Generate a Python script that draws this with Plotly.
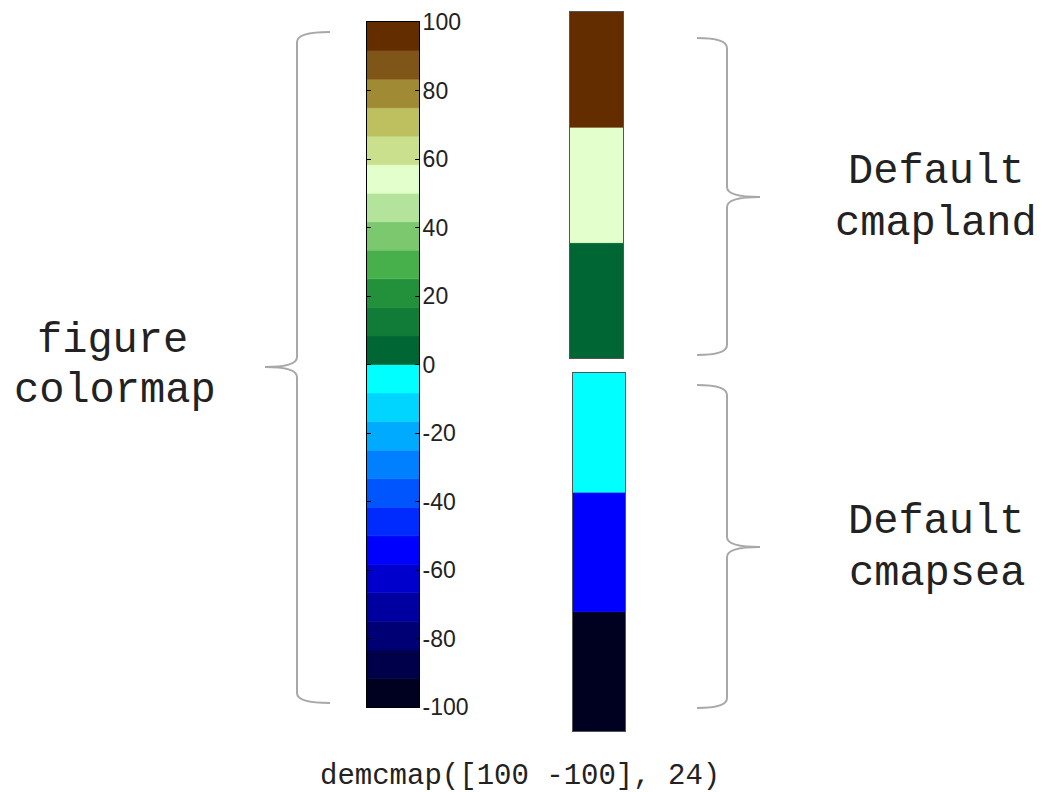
import numpy as np
import plotly.graph_objects as go

# page has an 8px body margin: figure drawn at (8,8) in the 1049x792 window
OFF = 8
W, H = 1049 - OFF, 792 - OFF

# ---- data ----
cmap_limits = [-100, 100]
n_colors = 24
tick_vals = [-100, -80, -60, -40, -20, 0, 20, 40, 60, 80, 100]
tick_text = ["-100", "-80", "-60", "-40", "-20", "0", "20", "40", "60", "80", "100"]
# figure colormap, bottom (-100) to top (100)
fig_colors = [
    "#000020", "#00004a", "#000075", "#0000a0", "#0000cc", "#0000ff",
    "#002bff", "#0055ff", "#0080ff", "#00aaff", "#00d5ff", "#00ffff",
    "#006633", "#117c37", "#23913b", "#47b04b", "#7cc86e", "#b4e49c",
    "#e2ffcc", "#cbe08c", "#bec060", "#a08a34", "#7f5618", "#632d00",
]
land_default = ["#006633", "#e2ffcc", "#632d00"]   # bottom to top
sea_default = ["#000020", "#0000ff", "#00ffff"]    # bottom to top

labels_left = ["figure", "colormap"]
labels_land = ["Default", "cmapland"]
labels_sea = ["Default", "cmapsea"]
caption = "demcmap([100 -100], 24)"

edges = np.linspace(cmap_limits[0], cmap_limits[1], n_colors + 1)
step = edges[1] - edges[0]

fig = go.Figure()

fig.add_trace(go.Bar(
    x=[0] * n_colors, y=[step] * n_colors, base=list(edges[:-1]),
    marker=dict(color=fig_colors, line=dict(width=0.6, color=fig_colors)), width=1,
    xaxis="x", yaxis="y", hoverinfo="skip", showlegend=False))

fig.add_trace(go.Bar(
    x=[0] * 3, y=[1] * 3, base=[0, 1, 2],
    marker=dict(color=land_default, line=dict(width=0.6, color=land_default)), width=1,
    xaxis="x2", yaxis="y2", hoverinfo="skip", showlegend=False))

fig.add_trace(go.Bar(
    x=[0] * 3, y=[1] * 3, base=[0, 1, 2],
    marker=dict(color=sea_default, line=dict(width=0.6, color=sea_default)), width=1,
    xaxis="x3", yaxis="y3", hoverinfo="skip", showlegend=False))

def px_x(a, b):
    return [(a - OFF) / W, (b - OFF) / W]

def px_y(top, bottom):
    return [1 - (bottom - OFF) / H, 1 - (top - OFF) / H]

box = dict(showline=True, linewidth=1, mirror=True, showgrid=False, zeroline=False)

fig.update_layout(
    width=W, height=H, margin=dict(l=0, r=0, t=0, b=0, autoexpand=False),
    paper_bgcolor="white", plot_bgcolor="rgba(0,0,0,0)", barmode="overlay",
    xaxis=dict(domain=px_x(367, 419), range=[-0.5, 0.5], showticklabels=False,
               ticks="", anchor="y", linecolor="black", **box),
    yaxis=dict(domain=px_y(22, 707), range=cmap_limits, side="right",
               tickvals=tick_vals, ticktext=tick_text, ticks="inside",
               ticklen=4, tickcolor="black", anchor="x", ticklabelstandoff=-2,
               tickfont=dict(family="Liberation Sans, Arial", size=23, color="#222"),
               showline=True, linecolor="black", linewidth=1, mirror="ticks",
               showgrid=False, zeroline=False),
    xaxis2=dict(domain=px_x(570, 623), range=[-0.5, 0.5], showticklabels=False,
                ticks="", anchor="y2", linecolor="#555", **box),
    yaxis2=dict(domain=px_y(12, 358), range=[0, 3], showticklabels=False,
                ticks="", anchor="x2", linecolor="#555", **box),
    xaxis3=dict(domain=px_x(573, 625), range=[-0.5, 0.5], showticklabels=False,
                ticks="", anchor="y3", linecolor="#555", **box),
    yaxis3=dict(domain=px_y(373, 731), range=[0, 3], showticklabels=False,
                ticks="", anchor="x3", linecolor="#555", **box),
)

def px(x, y):
    return f"{(x - OFF) / W:.5f},{1 - (y - OFF) / H:.5f}"

def brace(xe, xv, xt, ytop, ybot, ymid, r=10):
    return (f"M {px(xe, ytop)} Q {px(xv, ytop)} {px(xv, ytop + r)} L {px(xv, ymid - r)} "
            f"Q {px(xv, ymid)} {px(xt, ymid)} Q {px(xv, ymid)} {px(xv, ymid + r)} "
            f"L {px(xv, ybot - r)} Q {px(xv, ybot)} {px(xe, ybot)}")

brace_style = dict(type="path", xref="paper", yref="paper",
                   line=dict(color="#a8a8a8", width=2))
fig.add_shape(path=brace(330, 297, 265, 32, 703, 367), **brace_style)
fig.add_shape(path=brace(697, 727, 760, 38, 355, 197), **brace_style)
fig.add_shape(path=brace(697, 727, 760, 385, 708, 547), **brace_style)

mono = "Liberation Mono, Courier New, monospace"
def label(text, x, y, size=42):
    fig.add_annotation(text=text, x=(x - OFF) / W, y=1 - (y - OFF) / H,
                       xref="paper", yref="paper",
                       showarrow=False, xanchor="center", yanchor="middle",
                       font=dict(family=mono, size=size, color="#222"))

label(labels_left[0], 112, 341)
label(labels_left[1], 115, 391)
label(labels_land[0], 936, 172)
label(labels_land[1], 936, 224)
label(labels_sea[0], 936, 522)
label(labels_sea[1], 937, 574)
label(caption, 520, 776, size=29)

fig.write_html("out.html")
